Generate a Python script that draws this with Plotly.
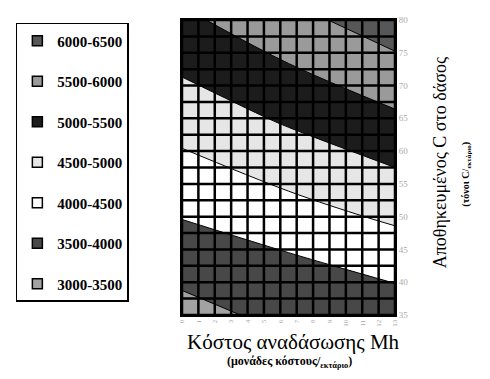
import plotly.graph_objects as go

# ---- data ----
x_cost = [0, 6.5, 13]                    # reforestation cost axis positions
y_carbon = [35, 42.5, 50, 65, 80]        # stored carbon axis positions
z_value = [                              # estimated surface values
    [3330, 3640, 3730],
    [3670, 3890, 4150],
    [4020, 4300, 4580],
    [4710, 5070, 5420],
    [5400, 5840, 6270],
]
band_labels = ["3000-3500", "3500-4000", "4000-4500", "4500-5000",
               "5000-5500", "5500-6000", "6000-6500"]
band_colors = ["#a2a2a2", "#484848", "#ffffff", "#e6e6e6",
               "#1c1c1c", "#9a9a9a", "#575757"]
x_ticks = list(range(0, 14))
y_ticks = [35, 40, 45, 50, 55, 60, 65, 70, 75, 80]
y_grid = [35, 37.5, 40, 42.5, 45, 47.5, 50, 52.5, 55, 57.5, 60, 62.5, 65,
          67.5, 70, 72.5, 75, 77.5, 80]

FONT = "Liberation Serif"

n = len(band_colors)
cs = [[0, band_colors[0]]]
for i, c in enumerate(band_colors):
    cs.append([(i + 1) / (n + 1), c])
cs.append([1, band_colors[-1]])

fig = go.Figure()
fig.add_trace(go.Contour(
    x=x_cost, y=y_carbon, z=z_value,
    autocontour=False,
    contours=dict(start=3000, end=6500, size=500, coloring="fill"),
    colorscale=cs, showscale=False,
    line=dict(color="black", width=1),
    showlegend=False, hoverinfo="skip",
))

# grid lines drawn over the bands
gx, gy = [], []
for xv in x_ticks:
    gx += [xv, xv, None]
    gy += [y_grid[0], y_grid[-1], None]
for yv in y_grid:
    gx += [x_ticks[0], x_ticks[-1], None]
    gy += [yv, yv, None]
fig.add_trace(go.Scatter(x=gx, y=gy, mode="lines",
                         line=dict(color="black", width=2.5),
                         showlegend=False, hoverinfo="skip"))

# legend entries (top = highest band)
for i in range(n - 1, -1, -1):
    fig.add_trace(go.Scatter(
        x=[None], y=[None], mode="markers", name=band_labels[i],
        legendgroup=band_labels[i],
        marker=dict(symbol="square", size=10, color=band_colors[i],
                    line=dict(color="black", width=1.5)),
    ))

fig.update_layout(
    width=482, height=371,
    margin=dict(l=169, r=95, t=7, b=64),
    paper_bgcolor="white", plot_bgcolor="white",
    font=dict(family=FONT, color="black"),
    showlegend=True,
    legend=dict(x=-0.78, xanchor="left", y=0.99, yanchor="top",
                bordercolor="black", borderwidth=1.5, bgcolor="white",
                font=dict(family=FONT, size=15, color="black", weight="bold"),
                tracegroupgap=18, itemwidth=30),
    xaxis=dict(range=[0, 13], tickvals=x_ticks, ticktext=[str(v) for v in x_ticks],
               tickangle=-90, tickfont=dict(size=7, color="#aaaaaa"),
               showgrid=False, zeroline=False, showline=True, linecolor="black",
               linewidth=2, mirror=True, ticks=""),
    yaxis=dict(range=[35, 80], side="right", tickvals=y_ticks,
               tickfont=dict(size=9, color="#aaaaaa"),
               showgrid=False, zeroline=False, showline=True, linecolor="black",
               linewidth=2, mirror=True, ticks=""),
    annotations=[
        dict(text="Κόστος αναδάσωσης Mh", xref="paper", yref="paper",
             x=0.525, y=-0.092, xanchor="center", yanchor="middle",
             showarrow=False, font=dict(size=21, family=FONT)),
        dict(text="<b>(μονάδες κόστους/<sub>εκτάριο</sub>)</b>", xref="paper", yref="paper",
             x=0.505, y=-0.158, xanchor="center", yanchor="middle",
             showarrow=False, font=dict(size=12, family=FONT)),
        dict(text="Αποθηκευμένος C στο δάσος", xref="paper", yref="paper",
             x=1.215, y=0.517, xanchor="center", yanchor="middle", textangle=-90,
             showarrow=False, font=dict(size=18, family=FONT)),
        dict(text="<b>(τόνοι C/<sub>εκτάριο</sub>)</b>", xref="paper", yref="paper",
             x=1.335, y=0.477, xanchor="center", yanchor="middle", textangle=-90,
             showarrow=False, font=dict(size=10, family=FONT)),
    ],
)

fig.write_html("out.html")
